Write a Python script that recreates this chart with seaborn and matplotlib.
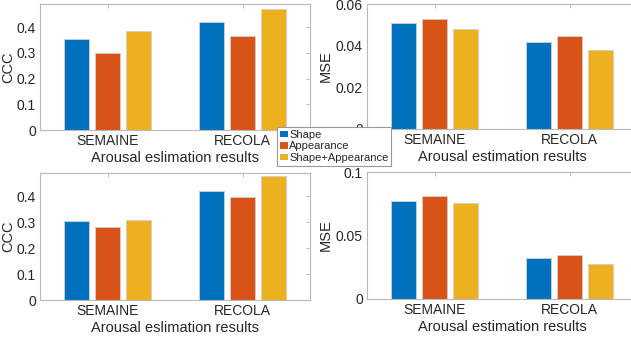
import matplotlib
matplotlib.use("Agg")
import matplotlib.pyplot as plt
import seaborn as sns
import pandas as pd
from matplotlib.patches import Patch

datasets = ["SEMAINE", "RECOLA"]
features = ["Shape", "Appearance", "Shape+Appearance"]
colors = ["#0072BD", "#D95319", "#EDB120"]

# top-left: CCC
ccc_top = {"Shape": [0.355, 0.420], "Appearance": [0.301, 0.366], "Shape+Appearance": [0.386, 0.471]}
# top-right: MSE
mse_top = {"Shape": [0.0510, 0.0416], "Appearance": [0.0527, 0.0444], "Shape+Appearance": [0.0480, 0.0379]}
# bottom-left: CCC
ccc_bot = {"Shape": [0.305, 0.420], "Appearance": [0.283, 0.397], "Shape+Appearance": [0.308, 0.477]}
# bottom-right: MSE
mse_bot = {"Shape": [0.0775, 0.0320], "Appearance": [0.0810, 0.0347], "Shape+Appearance": [0.0752, 0.0276]}

xlabels = ["Arousal eslimation results", "Arousal estimation results",
           "Arousal eslimation results", "Arousal estimation results"]
ylabels = ["CCC", "MSE", "CCC", "MSE"]
ylims = [(0, 0.49), (0, 0.06), (0, 0.49), (0, 0.1)]
yticks = [[0, 0.1, 0.2, 0.3, 0.4], [0, 0.02, 0.04, 0.06], [0, 0.1, 0.2, 0.3, 0.4], [0, 0.05, 0.1]]
yticklabels = [["0", "0.1", "0.2", "0.3", "0.4"], ["0", "0.02", "0.04", "0.06"],
               ["0", "0.1", "0.2", "0.3", "0.4"], ["0", "0.05", "0.1"]]


def to_df(d):
    rows = []
    for f in features:
        for ds, v in zip(datasets, d[f]):
            rows.append({"dataset": ds, "feature": f, "value": v})
    return pd.DataFrame(rows)


sns.set_theme(style="white")
plt.rcParams["font.family"] = ["Liberation Sans", "DejaVu Sans"]

W, H = 631, 341
fig = plt.figure(figsize=(W / 100, H / 100), dpi=100)

boxes = [
    (40, 4, 270, 126),
    (367, 4, 270, 125),
    (40, 173, 270, 127),
    (367, 172, 270, 127),
]
datas = [ccc_top, mse_top, ccc_bot, mse_bot]
spine_c = "#b8b8b8"
txt_c = "#262626"

for i, (box, d) in enumerate(zip(boxes, datas)):
    x0, y0, w, h = box
    ax = fig.add_axes([x0 / W, 1 - (y0 + h) / H, w / W, h / H])
    sns.barplot(data=to_df(d), x="dataset", y="value", hue="feature",
                palette=colors, hue_order=features, order=datasets,
                width=0.69, gap=0.2, ax=ax, edgecolor="#d0d0d0", linewidth=0.6,
                saturation=1, legend=False)
    ax.set_xlim(-0.5, 1.5)
    ax.set_ylim(*ylims[i])
    ax.set_yticks(yticks[i])
    ax.set_yticklabels(yticklabels[i])
    ax.set_xlabel(xlabels[i], fontsize=10.5, color=txt_c, labelpad=2)
    ax.set_ylabel(ylabels[i], fontsize=10.5, color=txt_c, labelpad=2)
    ax.tick_params(axis="both", direction="in", length=3, width=0.6, color=spine_c,
                   labelsize=10, labelcolor=txt_c, top=True, right=True, pad=3)
    for s in ax.spines.values():
        s.set_color(spine_c)
        s.set_linewidth(0.8)
        s.set_visible(True)
    if ylabels[i] == "CCC":
        ax.yaxis.set_label_coords(-25 / w, 0.5)

handles = [Patch(facecolor=c, edgecolor="none") for c in colors]
leg = fig.legend(handles, features, loc="upper left",
                 bbox_to_anchor=(277 / W, 1 - 127 / H), fontsize=8,
                 handlelength=0.7, handleheight=0.5, handletextpad=0.15,
                 borderpad=0.25, labelspacing=0.15, borderaxespad=0,
                 frameon=True, fancybox=False)
leg.get_frame().set_edgecolor("#999999")
leg.get_frame().set_linewidth(0.8)
leg.get_frame().set_alpha(1)
for t in leg.get_texts():
    t.set_color(txt_c)

fig.savefig("out.png", dpi=100)
